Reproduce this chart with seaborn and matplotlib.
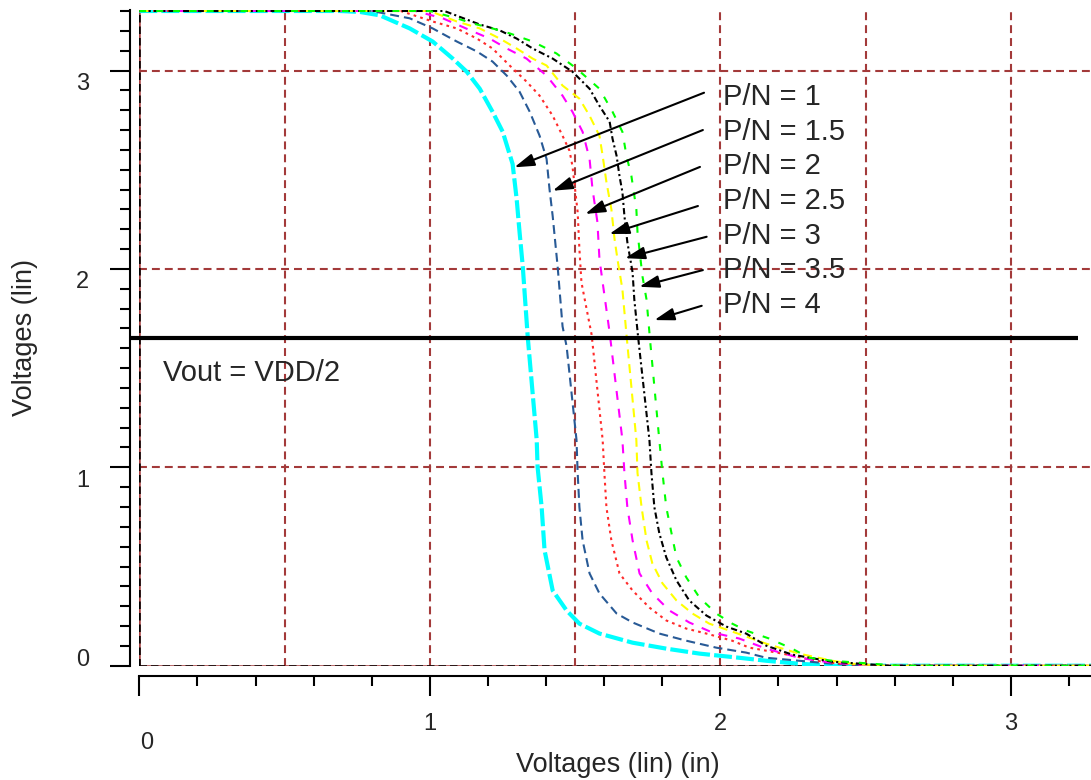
import numpy as np
import pandas as pd
import matplotlib
matplotlib.use("Agg")
import matplotlib.pyplot as plt
import matplotlib.transforms as mtransforms
import seaborn as sns

# ---------------- data ----------------
PN_LABELS = ["P/N = 1", "P/N = 1.5", "P/N = 2", "P/N = 2.5", "P/N = 3", "P/N = 3.5", "P/N = 4"]

X_PN1 = [0.0, 0.69, 0.76, 0.828, 0.931, 1.010, 1.079, 1.127, 1.172, 1.216, 1.251, 1.285, 1.299, 1.309, 1.320, 1.337,
         1.368, 1.371, 1.385, 1.395, 1.423, 1.471, 1.515, 1.584, 1.698, 1.814, 1.928, 2.065, 2.158, 2.271, 2.375, 3.3]
Y_PN1 = [3.3, 3.3, 3.295, 3.278, 3.212, 3.146, 3.060, 2.994, 2.908, 2.792, 2.691, 2.529, 2.352, 2.185, 2.013, 1.659,
         1.138, 1.002, 0.799, 0.582, 0.379, 0.278, 0.212, 0.162, 0.116, 0.086, 0.061, 0.040, 0.025, 0.010, 0.0, 0.0]

X_PN15 = [0.0, 0.80, 0.931, 1.010, 1.093, 1.162, 1.216, 1.265, 1.309, 1.344, 1.378, 1.402, 1.412, 1.423, 1.440, 1.457,
          1.471, 1.505, 1.509, 1.515, 1.526, 1.550, 1.584, 1.643, 1.698, 1.790, 1.883, 1.986, 2.089, 2.158, 2.271,
          2.385, 2.512, 3.3]
Y_PN15 = [3.3, 3.3, 3.263, 3.212, 3.146, 3.096, 3.045, 2.974, 2.893, 2.792, 2.671, 2.554, 2.403, 2.266, 2.013, 1.710,
          1.609, 1.138, 0.971, 0.799, 0.632, 0.465, 0.364, 0.263, 0.218, 0.162, 0.126, 0.091, 0.066, 0.040, 0.025,
          0.010, 0.0, 0.0]

X_PN2 = [0.0, 0.90, 1.010, 1.093, 1.162, 1.216, 1.275, 1.333, 1.378, 1.423, 1.457, 1.481, 1.491, 1.509, 1.515, 1.522,
         1.540, 1.557, 1.595, 1.601, 1.608, 1.625, 1.653, 1.698, 1.756, 1.814, 1.883, 1.952, 2.041, 2.100, 2.213,
         2.330, 2.409, 2.529, 3.3]
Y_PN2 = [3.3, 3.3, 3.247, 3.212, 3.161, 3.111, 3.025, 2.944, 2.873, 2.772, 2.671, 2.595, 2.519, 2.286, 2.099, 1.932,
         1.796, 1.669, 1.138, 0.971, 0.799, 0.632, 0.465, 0.379, 0.293, 0.228, 0.187, 0.162, 0.126, 0.091, 0.061,
         0.025, 0.010, 0.0, 0.0]

X_PN25 = [0.0, 0.95, 1.045, 1.148, 1.206, 1.265, 1.333, 1.402, 1.457, 1.491, 1.526, 1.550, 1.560, 1.577, 1.584, 1.595,
          1.619, 1.663, 1.670, 1.680, 1.698, 1.722, 1.766, 1.825, 1.893, 1.973, 2.065, 2.158, 2.271, 2.385, 2.546, 3.3]
Y_PN25 = [3.3, 3.3, 3.263, 3.197, 3.161, 3.111, 3.060, 2.974, 2.873, 2.792, 2.691, 2.554, 2.403, 2.236, 2.049, 1.932,
          1.679, 1.138, 0.971, 0.799, 0.632, 0.465, 0.364, 0.278, 0.218, 0.167, 0.137, 0.086, 0.040, 0.015, 0.0, 0.0]

X_PN3 = [0.0, 1.0, 1.093, 1.172, 1.241, 1.299, 1.354, 1.402, 1.457, 1.515, 1.550, 1.584, 1.595, 1.608, 1.625, 1.636,
         1.646, 1.663, 1.677, 1.711, 1.715, 1.729, 1.746, 1.766, 1.801, 1.849, 1.904, 1.962, 2.041, 2.158, 2.271,
         2.385, 2.454, 2.564, 3.3]
Y_PN3 = [3.3, 3.3, 3.247, 3.212, 3.161, 3.111, 3.060, 3.025, 2.924, 2.858, 2.772, 2.671, 2.570, 2.438, 2.301, 2.150,
         2.049, 1.897, 1.669, 1.138, 0.971, 0.799, 0.632, 0.516, 0.415, 0.329, 0.263, 0.212, 0.172, 0.111, 0.061,
         0.025, 0.010, 0.0, 0.0]

X_PN35 = [0.0, 1.05, 1.172, 1.241, 1.299, 1.354, 1.423, 1.491, 1.550, 1.584, 1.619, 1.629, 1.643, 1.653, 1.663, 1.670,
          1.680, 1.698, 1.704, 1.718, 1.756, 1.763, 1.773, 1.790, 1.814, 1.849, 1.893, 1.952, 2.021, 2.089, 2.158,
          2.247, 2.385, 2.581, 3.3]
Y_PN35 = [3.3, 3.3, 3.232, 3.202, 3.161, 3.111, 3.060, 2.994, 2.908, 2.822, 2.742, 2.656, 2.570, 2.468, 2.387, 2.266,
          2.135, 1.983, 1.846, 1.644, 1.138, 0.971, 0.799, 0.668, 0.546, 0.430, 0.329, 0.253, 0.197, 0.162, 0.101,
          0.056, 0.020, 0.0, 0.0]

X_PN4 = [0.0, 1.0, 1.093, 1.148, 1.216, 1.275, 1.354, 1.436, 1.505, 1.584, 1.629, 1.663, 1.677, 1.694, 1.711, 1.715,
         1.732, 1.746, 1.759, 1.790, 1.801, 1.814, 1.832, 1.849, 1.883, 1.928, 1.986, 2.041, 2.089, 2.168, 2.247,
         2.306, 2.385, 2.615, 3.3]
Y_PN4 = [3.3, 3.3, 3.263, 3.237, 3.212, 3.187, 3.146, 3.086, 3.010, 2.908, 2.792, 2.691, 2.570, 2.468, 2.301, 2.185,
         1.963, 1.846, 1.629, 1.138, 0.971, 0.799, 0.668, 0.546, 0.445, 0.344, 0.263, 0.212, 0.177, 0.137, 0.086,
         0.040, 0.025, 0.0, 0.0]

# arrow tails (near the labels) and heads (on the curves)
ARROW_TAIL_X = [1.944, 1.940, 1.930, 1.923, 1.953, 1.940, 1.936]
ARROW_TAIL_Y = [2.888, 2.700, 2.514, 2.317, 2.162, 1.994, 1.814]
ARROW_HEAD_X = [1.291, 1.423, 1.535, 1.618, 1.672, 1.721, 1.773]
ARROW_HEAD_Y = [2.512, 2.394, 2.277, 2.176, 2.054, 1.910, 1.742]
LABEL_X = 2.010
LABEL_Y = [2.866, 2.692, 2.517, 2.342, 2.167, 1.993, 1.818]

VDD = 3.3
VOUT_LINE_X = [-0.031, 3.23]
X_TICKS = [0, 1, 2, 3]
Y_TICKS = [0, 1, 2, 3]
GRID_X = [0.5, 1.0, 1.5, 2.0, 2.5, 3.0]
GRID_Y = [1.0, 2.0, 3.0]

CURVES = [(X_PN1, Y_PN1), (X_PN15, Y_PN15), (X_PN2, Y_PN2), (X_PN25, Y_PN25),
          (X_PN3, Y_PN3), (X_PN35, Y_PN35), (X_PN4, Y_PN4)]

# ---------------- styles ----------------
COLORS = ["#00FFFF", "#285A96", "#FF2A2A", "#FF00FF", "#FFFF00", "#000000", "#00FF00"]
WIDTHS = [3.0, 1.5, 1.5, 1.5, 1.5, 1.5, 1.5]
DASHES = [(4.3, 1.0), (4.3, 2.4), (1.3, 2.0), (4.3, 4.3), (4.3, 2.8), (3.0, 1.5, 1.0, 1.5), (3.3, 4.8)]
GRID_COLOR = "#A33A3A"
FONT = "Liberation Sans"

sns.set_theme(style="white")
plt.rcParams["font.family"] = [FONT, "DejaVu Sans"]

W, H = 1091, 780
fig = plt.figure(figsize=(W / 100, H / 100), dpi=100)
x0_px, y0_px = 139.3, 665.7
px_per_x, px_per_y = 290.5, 198.4
top_px = 10.0
ax = fig.add_axes([x0_px / W, (H - y0_px) / H, (W - x0_px) / W, (y0_px - top_px) / H])
ax.set_xlim(0, (W - x0_px) / px_per_x)
ax.set_ylim(0, (y0_px - top_px) / px_per_y)
ax.set_facecolor("white")

# grid
for gx in GRID_X:
    ax.axvline(gx, color=GRID_COLOR, lw=1.5, ls=(0, (3.8, 2.4)), zorder=1)
for gy in GRID_Y:
    ax.axhline(gy, color=GRID_COLOR, lw=1.5, ls=(0, (3.8, 2.4)), zorder=1)
ax.axvline(0, color=GRID_COLOR, lw=1.8, zorder=1)
ax.axvline(0, color="black", lw=1.8, ls=(0, (3.0, 1.6)), zorder=1.1)
ax.axhline(0, color=GRID_COLOR, lw=1.8, zorder=1)
ax.axhline(0, color="black", lw=1.8, ls=(0, (3.0, 1.6)), zorder=1.1)

# curves
for (xs, ys), c, w, d, lab in zip(CURVES, COLORS, WIDTHS, DASHES, PN_LABELS):
    df = pd.DataFrame({"vin": xs, "vout": ys})
    sns.lineplot(data=df, x="vin", y="vout", ax=ax, color=c, lw=w, sort=False,
                 estimator=None, legend=False, zorder=2)
    ax.lines[-1].set_dashes(d)

# Vout = VDD/2 line
ax.plot(VOUT_LINE_X, [VDD / 2, VDD / 2], color="black", lw=3.0, solid_capstyle="butt",
        clip_on=False, zorder=4)
ax.text(0.083, 1.475, "Vout = VDD/2", fontsize=21, family=FONT, ha="left", va="center", zorder=5)

# arrows and labels
for tx, ty, hx, hy, ly, lab in zip(ARROW_TAIL_X, ARROW_TAIL_Y, ARROW_HEAD_X, ARROW_HEAD_Y, LABEL_Y, PN_LABELS):
    ax.annotate("", xy=(hx, hy), xytext=(tx, ty),
                arrowprops=dict(arrowstyle="-|>,head_length=0.8,head_width=0.25", color="black",
                                lw=1.5, shrinkA=0, shrinkB=0, mutation_scale=15), zorder=5)
    ax.text(LABEL_X, ly, lab, fontsize=21, family=FONT, ha="left", va="center", zorder=5)

# spines
for s in ["top", "right"]:
    ax.spines[s].set_visible(False)
ax.spines["left"].set_position(("outward", 9 * 0.72))
ax.spines["bottom"].set_position(("outward", 10.3 * 0.72))
for s in ["left", "bottom"]:
    ax.spines[s].set_color("black")
    ax.spines[s].set_linewidth(1.5)

ax.set_xticks(X_TICKS)
ax.set_yticks(Y_TICKS)
ax.set_xticks(np.arange(0, 3.3, 0.2), minor=True)
ax.set_yticks(np.arange(0, 3.35, 0.1), minor=True)
ax.tick_params(which="major", direction="out", length=14.4, width=1.5, color="black",
               labelsize=17, bottom=True, left=True)
ax.tick_params(which="minor", direction="out", length=7.2, width=1.5, color="black",
               bottom=True, left=True)
ax.tick_params(axis="y", which="major", pad=15)
ax.tick_params(axis="x", which="major", pad=12)
ax.set_xticklabels([str(t) for t in X_TICKS], family=FONT)
ax.set_yticklabels([str(t) for t in Y_TICKS], family=FONT)

# quirky offsets of tick labels as in the reference
def shift(lbl, dx_px, dy_px):
    lbl.set_transform(lbl.get_transform() + mtransforms.ScaledTranslation(dx_px / 100, dy_px / 100, fig.dpi_scale_trans))

xl = ax.get_xticklabels()
shift(xl[0], 7, -19)
yl = ax.get_yticklabels()
shift(yl[0], 0, 7.7)
for l in yl[1:]:
    shift(l, 0, -11)

ax.set_xlabel("Voltages (lin) (in)", fontsize=19.5, family=FONT)
ax.set_ylabel("Voltages (lin)", fontsize=19.5, family=FONT)
ax.xaxis.label.set_va("center")
ax.yaxis.label.set_va("center")
ax.xaxis.set_label_coords((618 - x0_px) / (W - x0_px), (y0_px - 765) / (y0_px - top_px))
ax.yaxis.set_label_coords((25 - x0_px) / (W - x0_px), (y0_px - 338) / (y0_px - top_px))

fig.savefig("out.png", dpi=100, facecolor="white")
